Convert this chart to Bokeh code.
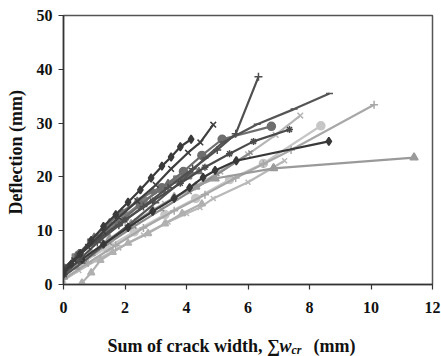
from bokeh.plotting import figure
from bokeh.models import Range1d, FixedTicker
from bokeh.layouts import column
from bokeh.core.properties import value
from bokeh.embed import file_html
from bokeh.resources import INLINE

# Deflection vs. sum of crack width for each tested beam
s1_x = [0.0, 0.25, 0.55, 0.9, 1.3, 1.7, 2.1, 2.5, 2.85, 3.2, 3.5, 3.8, 4.15]
s1_y = [2.0, 3.8, 5.8, 8.2, 10.8, 13.0, 15.3, 17.6, 19.8, 22.0, 23.7, 25.6, 27.0]

s2_x = [0.0, 0.35, 0.8, 1.3, 1.8, 2.4, 3.0, 3.5, 4.05, 4.45, 4.87]
s2_y = [2.5, 4.5, 7.0, 9.8, 12.5, 15.5, 18.5, 21.5, 24.5, 26.4, 29.7]

s3_x = [0.0, 0.5, 1.1, 1.8, 2.6, 3.4, 4.2, 5.0, 5.6, 6.34]
s3_y = [1.8, 4.5, 7.8, 11.0, 14.5, 18.0, 21.5, 25.0, 28.0, 38.6]

s4_x = [0.0, 0.6, 1.3, 2.1, 3.0, 3.9, 4.6, 5.2, 6.3, 7.5, 8.65]
s4_y = [1.5, 4.0, 7.3, 11.0, 15.2, 19.5, 23.5, 26.5, 29.8, 32.6, 35.5]

s5_x = [0.0, 0.5, 1.1, 1.8, 2.5, 3.2, 3.9, 4.5, 5.16, 6.76]
s5_y = [3.0, 5.5, 8.5, 11.5, 14.8, 18.0, 21.0, 24.0, 27.0, 29.4]

s6_x = [0.0, 0.8, 1.7, 2.6, 3.6, 4.6, 5.6, 6.5, 7.4, 10.1]
s6_y = [1.0, 4.0, 7.3, 10.5, 13.7, 16.7, 19.8, 22.4, 25.0, 33.4]

s7_x = [0.0, 0.7, 1.5, 2.4, 3.3, 4.2, 5.1, 6.0, 6.9, 7.7]
s7_y = [2.2, 5.0, 8.3, 11.8, 15.0, 18.0, 21.0, 24.2, 27.8, 31.4]

s8_x = [0.0, 0.6, 1.4, 2.3, 3.3, 4.3, 5.4, 6.5, 8.37]
s8_y = [2.0, 4.0, 6.8, 9.8, 13.0, 16.0, 19.5, 22.5, 29.5]

s9_x = [0.0, 0.5, 1.2, 2.0, 2.9, 3.8, 4.6, 5.4, 6.18, 7.35]
s9_y = [3.0, 5.5, 8.7, 12.0, 15.5, 18.8, 21.8, 24.3, 26.6, 28.8]

s10_x = [0.0, 0.6, 1.3, 2.1, 2.9, 3.6, 4.1, 4.54, 4.93, 5.62, 8.63]
s10_y = [2.3, 4.7, 7.5, 10.6, 13.6, 16.0, 18.0, 19.9, 21.2, 23.0, 26.6]

s11_x = [0.0, 0.4, 0.9, 1.5, 2.2, 2.9, 3.6, 4.3, 4.93, 6.83, 11.4]
s11_y = [1.5, 3.3, 5.8, 8.5, 11.2, 13.8, 16.2, 18.2, 19.7, 21.6, 23.6]

s12_x = [0.6, 0.9, 1.2, 1.6, 2.1, 2.75, 3.3, 3.86, 4.5]
s12_y = [0.3, 2.2, 4.5, 6.0, 7.7, 9.5, 11.3, 13.2, 15.0]

s13_x = [0.0, 0.5, 1.1, 1.8, 2.6, 3.4, 4.0, 4.44, 4.87, 6.0, 7.19]
s13_y = [0.8, 2.6, 4.6, 6.8, 9.2, 11.6, 13.2, 14.3, 16.0, 19.0, 23.0]

s14_x = [0.0, 0.4, 0.9, 1.4, 2.0, 2.6, 3.2, 3.7, 4.05]
s14_y = [2.5, 5.0, 7.8, 10.3, 12.8, 15.5, 17.8, 19.5, 20.3]

s15_x = [0.0, 0.5, 1.0, 1.5, 1.9, 2.4, 2.9, 3.4, 3.9, 4.4]
s15_y = [2.8, 5.8, 8.8, 11.5, 13.5, 15.5, 17.3, 18.8, 20.0, 21.0]

s16_x = [0.0, 0.7, 1.5, 2.3, 3.2, 4.1, 5.0, 6.08]
s16_y = [1.8, 4.6, 7.8, 10.8, 14.0, 17.2, 20.5, 24.5]

x_ticks = [0, 2, 4, 6, 8, 10, 12]
y_ticks = [0, 10, 20, 30, 40, 50]

series = [
    (s13_x, s13_y, "#b8b8b8", "x", 7),
    (s12_x, s12_y, "#b0b0b0", "triangle", 7),
    (s8_x, s8_y, "#c6c6c6", "circle", 8),
    (s6_x, s6_y, "#a8a8a8", "cross", 8),
    (s7_x, s7_y, "#b5b5b5", "x", 8),
    (s16_x, s16_y, "#8a8a8a", "x", 6),
    (s11_x, s11_y, "#9a9a9a", "triangle", 8),
    (s14_x, s14_y, "#808080", "square", 7),
    (s15_x, s15_y, "#707070", "triangle", 7),
    (s5_x, s5_y, "#6e6e6e", "circle", 8),
    (s4_x, s4_y, "#555555", "dash", 7),
    (s9_x, s9_y, "#4a4a4a", "asterisk", 7),
    (s10_x, s10_y, "#383838", "diamond", 8),
    (s3_x, s3_y, "#4f4f4f", "cross", 8),
    (s2_x, s2_y, "#3f3f3f", "x", 8),
    (s1_x, s1_y, "#3b3b3b", "diamond", 8),
]

font = "Liberation Serif"
left, right = 63, 9

p = figure(width=441, height=330, output_backend="svg", toolbar_location=None,
           x_range=Range1d(0, 12), y_range=Range1d(0, 50))
p.min_border_left = left
p.min_border_right = right
p.min_border_top = 15
p.min_border_bottom = 46
p.outline_line_color = "#555555"
p.outline_line_width = 1.5
p.xgrid.visible = False
p.ygrid.visible = False

for xs, ys, col, mk, sz in series:
    p.line(xs, ys, line_color=col, line_width=2.2)
    p.scatter(xs, ys, marker=mk, size=sz, fill_color=col, line_color=col, line_width=1.5)

for ax in (p.xaxis[0], p.yaxis[0]):
    ax.axis_line_color = "#333333"
    ax.axis_line_width = 1.5
    ax.major_tick_line_color = "#333333"
    ax.major_tick_line_width = 1.2
    ax.major_tick_out = 5
    ax.major_tick_in = 0
    ax.minor_tick_line_color = None
    ax.major_label_text_font = font
    ax.major_label_text_font_style = "bold"
    ax.major_label_text_font_size = "16px"
    ax.major_label_text_color = "#111111"

p.xaxis.ticker = FixedTicker(ticks=x_ticks)
p.yaxis.ticker = FixedTicker(ticks=y_ticks)
p.xaxis.major_label_standoff = 12
p.yaxis.major_label_standoff = 6

p.yaxis.axis_label = "Deflection  (mm)"
p.yaxis.axis_label_text_font = font
p.yaxis.axis_label_text_font_style = "bold"
p.yaxis.axis_label_text_font_size = "18px"
p.yaxis.axis_label_text_color = "#111111"
p.yaxis.axis_label_standoff = 8

# Strip under the chart holding the x-axis title; its x range is in canvas
# pixels so the pieces (italic variable with subscript) can be laid side by side.
q = figure(width=441, height=26, output_backend="svg", toolbar_location=None,
           x_range=Range1d(left, 441 - right), y_range=Range1d(0, 26))
q.min_border_left = left
q.min_border_right = right
q.min_border_top = 0
q.min_border_bottom = 0
q.axis.visible = False
q.grid.visible = False
q.outline_line_color = None

base = 11
common = dict(text_font=value(font), text_color="#111111",
              text_baseline="alphabetic", text_align="left")
q.text(x=[107], y=[base], text=["Sum of crack width, \u2211"],
       text_font_style="bold", text_font_size="18px", **common)
q.text(x=[279], y=[base], text=["w"],
       text_font_style="bold italic", text_font_size="18px", **common)
q.text(x=[291], y=[base - 4], text=["cr"],
       text_font_style="bold italic", text_font_size="12px", **common)
q.text(x=[313], y=[base], text=["(mm)"],
       text_font_style="bold", text_font_size="18px", **common)

layout = column(p, q, spacing=0)
open("out.html", "w").write(file_html(layout, INLINE))
